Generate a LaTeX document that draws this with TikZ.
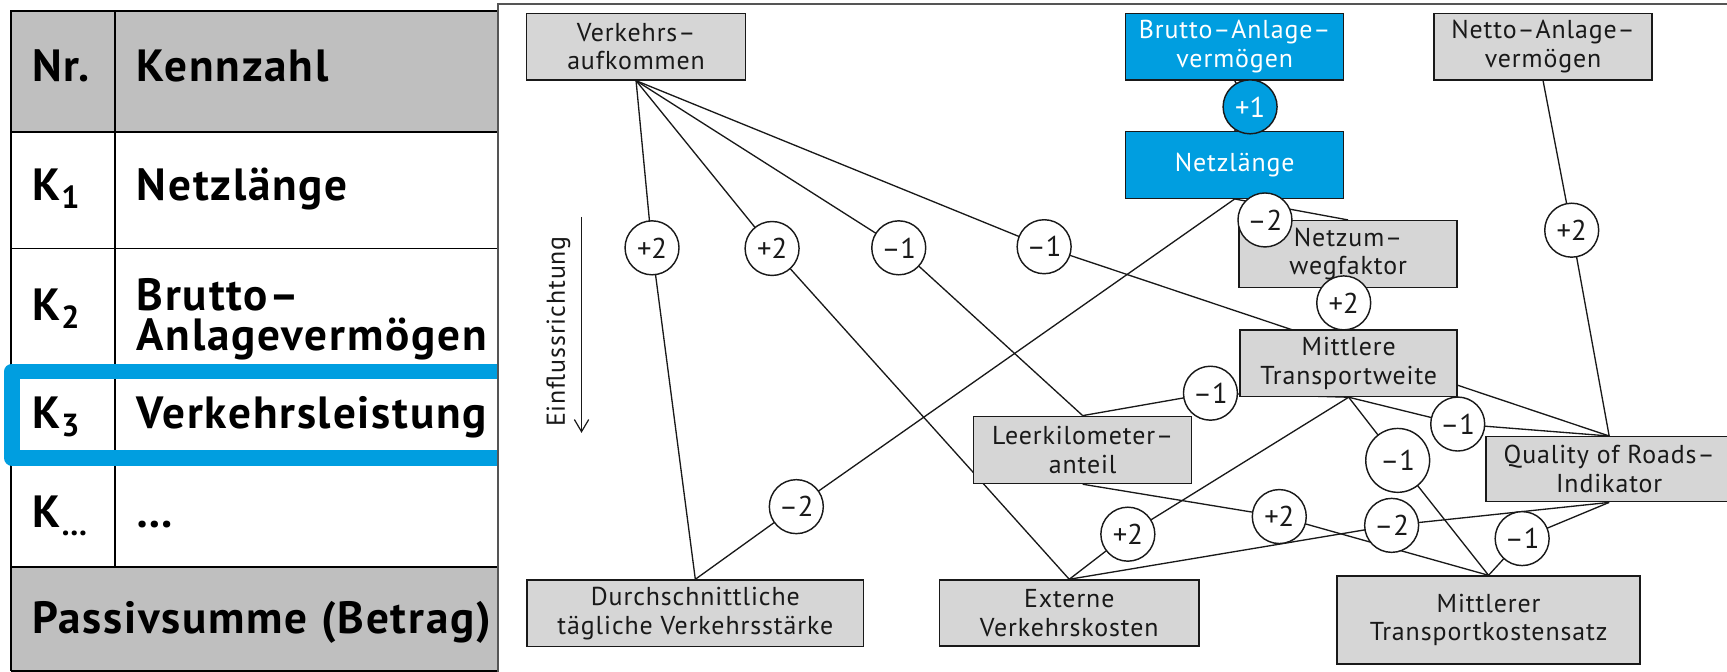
\documentclass[tikz,border=0pt]{standalone}
\usepackage{fontspec}
\setmainfont{PT Sans}
\newfontfamily\dfont[LetterSpace=3.5]{PT Sans}
\newfontfamily\tfont[LetterSpace=4]{PT Sans}
\usetikzlibrary{backgrounds,arrows.meta}
\definecolor{kblue}{RGB}{0,158,224}
\definecolor{boxgray}{RGB}{214,214,214}
\definecolor{tabgray}{RGB}{191,191,191}
\definecolor{framegray}{RGB}{85,85,85}
\definecolor{ink}{RGB}{25,25,25}
\newcommand{\ksub}[1]{\kern1pt\raisebox{-7.6pt}{\fontsize{29}{29}\selectfont #1}}
\begin{document}
\begin{tikzpicture}[x=1pt,y=-1pt,
  tline/.style={draw=black, line width=1.5pt},
  ttext/.style={anchor=base west, inner sep=0pt, text=black, font=\tfont\bfseries\fontsize{41}{36}\selectfont},
  box/.style={draw=ink, line width=1.3pt, fill=boxgray, inner sep=0pt, align=center, text=ink,
              font=\dfont\fontsize{23.5}{26}\selectfont},
  bluebox/.style={box, fill=kblue, text=white},
  wt/.style={circle, draw=ink, line width=1.3pt, fill=white, minimum size=49pt, inner sep=0pt, text=ink,
             font=\fontsize{26}{26}\selectfont},
  edge/.style={draw=ink, line width=1.2pt}]
\useasboundingbox (0,0) rectangle (1568,610);
\begin{pgfonlayer}{background}
\fill[white] (0,0) rectangle (1568,610);
\end{pgfonlayer}

% ---------- table ----------
\fill[tabgray] (10,10) rectangle (452.5,119.6);
\fill[tabgray] (10,514.5) rectangle (452.5,609);
\draw[tline] (10,609) -- (10,10) -- (452.5,10);
\foreach \yy in {119.6,225.5,337,416,514.5,609} \draw[tline] (10,\yy) -- (452.5,\yy);
\draw[tline] (104.4,10) -- (104.4,514.5);
\draw[kblue, line width=14.5pt, line join=round] (452.5,337.3) -- (10.9,337.3) -- (10.9,415.7) -- (452.5,415.7);

\node[ttext] (h1) at (29,74) {Nr.};
\node[ttext] (h2) at (124,74) {Kennzahl};
\node[ttext] (k1) at (29,181.6) {K\ksub{1}};
\node[ttext] (n1) at (124,181.6) {Netzlänge};
\node[ttext] (k2) at (29,291) {K\ksub{2}};
\node[ttext, anchor=north west, align=left] (n2) at (124,253) {Brutto–\\Anlagevermögen};
\node[ttext] (k3) at (29,388.8) {K\ksub{3}};
\node[ttext] (n3) at (124,388.8) {Verkehrsleistung};
\node[ttext] (k4) at (29,479) {K\ksub{…}};
\node[ttext] (n4) at (124,479) {…};
\node[ttext] (ps) at (29,575) {Passivsumme (Betrag)};

% ---------- frame ----------
\draw[framegray, line width=1.8pt] (452.5,615) -- (452.5,3.6) -- (1580,3.6);

% ---------- boxes ----------
\node[box, minimum width=199pt, minimum height=60.6pt] (verk) at (577.5,42.3) {Verkehrs–\\aufkommen};
\node[bluebox, minimum width=198pt, minimum height=60.6pt] (brutto) at (1121,42.3) {Brutto–Anlage–\\vermögen};
\node[box, minimum width=198pt, minimum height=60.6pt] (netto) at (1401,42.3) {Netto–Anlage–\\vermögen};
\node[bluebox, minimum width=198pt, minimum height=60.4pt] (netz) at (1121,149.8) {Netzlänge};
\node[box, minimum width=198pt, minimum height=60.5pt] (numw) at (1224,230.6) {Netzum–\\wegfaktor};
\node[box, minimum width=197pt, minimum height=60.4pt] (mtw) at (1224.5,329.8) {Mittlere\\Transportweite};
\node[box, minimum width=198pt, minimum height=61pt] (leer) at (983,408.5) {Leerkilometer–\\anteil};
\node[box, minimum width=224pt, minimum height=59pt] (qual) at (1461,426) {Quality of Roads–\\Indikator};
\node[box, minimum width=305.4pt, minimum height=60.4pt] (durch) at (631.3,556.8) {Durchschnittliche\\tägliche Verkehrsstärke};
\node[box, minimum width=235.5pt, minimum height=60pt] (ext) at (970.8,556.6) {Externe\\Verkehrskosten};
\node[box, minimum width=275pt, minimum height=80pt] (mtks) at (1351.5,563) {Mittlerer\\Transportkostensatz};

% ---------- weights ----------
\node[wt, fill=kblue, text=white] (c1) at (1135,97) {+1};
\node[wt] (c2) at (592,225) {+2};
\node[wt] (c3) at (701,225.6) {+2};
\node[wt] (c4) at (816,225) {–1};
\node[wt] (c5) at (948,224) {–1};
\node[wt] (c6) at (1148.5,199.7) {–2};
\node[wt] (c7) at (1220,275) {+2};
\node[wt] (c8) at (1427,209) {+2};
\node[wt] (c9) at (1099,357) {–1};
\node[wt] (c10) at (1323.5,385) {–1};
\node[wt, minimum size=58pt] (c11) at (1269,418) {–1};
\node[wt] (c12) at (723,460) {–2};
\node[wt] (c13) at (1024,485) {+2};
\node[wt] (c14) at (1161.5,469) {+2};
\node[wt] (c15) at (1263.5,477) {–2};
\node[wt] (c16) at (1382,489) {–1};

% ---------- direction ----------
\node[rotate=90, inner sep=0pt, text=ink, font=\dfont\fontsize{23.5}{26}\selectfont] (einfl) at (507,301) {Einflussrichtung};
\coordinate (atop) at (528,197);
\coordinate (abot) at (528,393);
\draw[ink, line width=1.1pt, -{Straight Barb[length=11pt,width=13pt]}] (atop) -- (abot);

% ---------- connectors ----------
\begin{pgfonlayer}{background}
\draw[edge] (verk.south) -- (c2.center) -- (durch.north);
\draw[edge] (verk.south) -- (c3.center) -- (ext.north);
\draw[edge] (verk.south) -- (c4.center) -- (leer.north);
\draw[edge] (verk.south) -- (c5.center) -- (qual.north);
\draw[edge] (brutto.south) -- (c1.center) -- (netz.north);
\draw[edge] (netz.south) -- (c12.center) -- (durch.north);
\draw[edge] (netz.south) -- (numw.north);
\draw[edge] (numw.south) -- (c7.center) -- (mtw.north);
\draw[edge] (netto.south) -- (c8.center) -- (qual.north);
\draw[edge] (mtw.south) -- (c9.center) -- (leer.north);
\draw[edge] (mtw.south) -- (c10.center) -- (qual.north);
\draw[edge] (mtw.south) -- (c11.center) -- (mtks.north);
\draw[edge] (mtw.south) -- (c13.center) -- (ext.north);
\draw[edge] (leer.south) -- (c14.center) -- (mtks.north);
\draw[edge] (qual.south) -- (c15.center) -- (ext.north);
\draw[edge] (qual.south) -- (c16.center) -- (mtks.north);
\end{pgfonlayer}
\end{tikzpicture}
\end{document}
